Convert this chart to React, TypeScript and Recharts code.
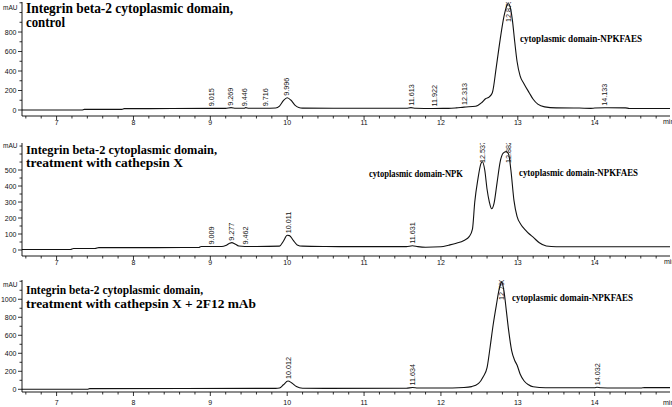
import React from 'react';
import { ComposedChart, Line, Scatter, XAxis, YAxis } from 'recharts';

const W = 672;
const SANS = '"Liberation Sans", Arial, sans-serif';
const SERIF = '"Liberation Serif", "Times New Roman", serif';

// [retention time (min), absorbance (mAU)]
const CONTROL: [number, number][] = [
  [6.55, 0], [7.33, 0], [7.36, 6], [7.85, 6], [7.88, 14], [8.5, 15], [9.0, 17], [9.2, 17],
  [9.27, 24], [9.33, 18], [9.44, 18], [9.46, 24], [9.5, 18], [9.7, 18], [9.85, 20], [9.9, 40],
  [9.95, 95], [10.0, 126], [10.05, 100], [10.1, 50], [10.15, 25], [10.2, 19], [10.6, 18],
  [11.0, 18], [11.55, 18], [11.61, 24], [11.67, 18], [11.9, 16], [12.1, 17], [12.2, 22],
  [12.3, 30], [12.45, 38], [12.53, 75], [12.58, 115], [12.63, 135], [12.67, 180], [12.72, 440],
  [12.77, 720], [12.82, 960], [12.86, 1075], [12.88, 1090], [12.9, 1060], [12.93, 920],
  [12.96, 700], [12.99, 500], [13.03, 350], [13.08, 270], [13.15, 175], [13.2, 110],
  [13.26, 60], [13.35, 32], [13.5, 22], [13.8, 20], [13.95, 17], [14.0, 20], [14.13, 23],
  [14.4, 22], [14.45, 16], [14.98, 16],
];

const CATX: [number, number][] = [
  [6.55, 3], [7.18, 3], [7.22, 9], [7.5, 9], [7.55, 15], [8.3, 15], [8.85, 16], [8.88, 22],
  [9.15, 22], [9.2, 28], [9.25, 42], [9.28, 46], [9.32, 38], [9.37, 25], [9.45, 22], [9.6, 22],
  [9.9, 24], [9.95, 55], [10.0, 92], [10.03, 90], [10.08, 60], [10.13, 32], [10.2, 24],
  [10.5, 22], [11.0, 21], [11.55, 21], [11.63, 27], [11.7, 21], [11.8, 17], [12.0, 20],
  [12.1, 30], [12.2, 42], [12.3, 60], [12.37, 85], [12.41, 130], [12.44, 300], [12.48, 440],
  [12.52, 540], [12.54, 552], [12.57, 500], [12.6, 380], [12.63, 300], [12.66, 258],
  [12.69, 290], [12.73, 420], [12.77, 550], [12.81, 605], [12.85, 615], [12.88, 600],
  [12.91, 500], [12.95, 310], [12.99, 210], [13.04, 160], [13.1, 125], [13.15, 100],
  [13.2, 80], [13.28, 45], [13.37, 25], [13.5, 20], [14.98, 20],
];

const CATX_MAB: [number, number][] = [
  [6.55, 0], [7.4, 0], [7.43, 8], [9.85, 10], [9.9, 15], [9.95, 50], [10.01, 92], [10.06, 70],
  [10.12, 30], [10.2, 12], [10.5, 10], [11.55, 12], [11.63, 20], [11.7, 14], [12.0, 14],
  [12.3, 20], [12.4, 30], [12.49, 65], [12.55, 140], [12.6, 240], [12.64, 470], [12.68, 720],
  [12.72, 930], [12.76, 1120], [12.79, 1190], [12.82, 1090], [12.85, 880], [12.88, 660],
  [12.92, 430], [12.96, 320], [12.99, 270], [13.03, 170], [13.08, 95], [13.14, 50],
  [13.2, 28], [13.36, 18], [14.0, 18], [14.03, 23], [14.08, 18], [14.25, 15], [14.6, 15],
  [14.65, 19], [14.98, 19],
];

const CONTROL_PEAKS = ['9.015', '9.269', '9.446', '9.716', '9.996', '11.613', '11.922', '12.313', '12.879', '14.133'];
const CATX_PEAKS = ['9.009', '9.277', '9.462', '10.011', '11.631', '12.537', '12.882'];
const CATX_MAB_PEAKS = ['10.012', '11.634', '12.790', '14.032'];

const X_DOMAIN: [number, number] = [6.55, 14.98];
const X_TICKS = Array.from({ length: 42 }, (_, i) => +(6.6 + i * 0.2).toFixed(1));

const Y1_TICKS = [0, 100, 200, 300, 400, 500, 600, 700, 800, 900, 1000, 1100];
const Y1_LABELS = [0, 200, 400, 600, 800];
const Y2_TICKS = [0, 50, 100, 150, 200, 250, 300, 350, 400, 450, 500, 550, 600, 650];
const Y2_LABELS = [0, 100, 200, 300, 400, 500];
const Y3_TICKS = [0, 100, 200, 300, 400, 500, 600, 700, 800, 900, 1000, 1100, 1200];
const Y3_LABELS = [0, 200, 400, 600, 800, 1000];

const XTick = (p: any) => {
  const { x, y, payload, gap } = p;
  const v = payload.value;
  const major = Math.abs(v - Math.round(v)) < 1e-6;
  return (
    <g>
      <line x1={x} x2={x} y1={y} y2={y + (major ? 4 : 2.5)} stroke="#000" strokeWidth={0.8} />
      {major && (
        <text x={x} y={y + gap} textAnchor="middle" dominantBaseline="central" fontSize={7} fontFamily={SANS} fill="#111" stroke="none">
          {Math.round(v)}
        </text>
      )}
    </g>
  );
};

const YTick = (p: any) => {
  const { x, y, payload, labels } = p;
  const v = payload.value;
  const show = labels.includes(v);
  return (
    <g>
      <line x1={x - (show ? 4 : 2.5)} x2={x} y1={y} y2={y} stroke="#000" strokeWidth={0.8} />
      {show && (
        <text x={x - 5.5} y={y} textAnchor="end" dominantBaseline="central" fontSize={7} fontFamily={SANS} fill="#111" stroke="none">
          {v}
        </text>
      )}
    </g>
  );
};

const PeakLabel = (p: any) => {
  const { cx, cy, payload, limit } = p;
  if (cx == null || cy == null) return null;
  const s: string = payload.label;
  const fs = 7.2;
  const len = (s.length - 1) * 0.556 * fs + 0.278 * fs;
  const y = Math.max(cy - 2, limit + len);
  return (
    <text x={cx} y={y} transform={`rotate(-90 ${cx} ${y})`} fontSize={fs} fontFamily={SANS}
      dominantBaseline="central" fill="#111" stroke="none">
      {s}
    </text>
  );
};

function Panel({ trace, peaks, top, height, plotTop, axisH, yDomain, yTicks, yLabels, gap }: any) {
  const data = trace.map(([t, v]: [number, number]) => ({ t, v }));
  const nearest = (t: number) =>
    data.reduce((a: any, b: any) => (Math.abs(b.t - t) < Math.abs(a.t - t) ? b : a));
  const marks = peaks.map((s: string) => ({ t: parseFloat(s), v: nearest(parseFloat(s)).v, label: s }));
  return (
    <div style={{ position: 'absolute', left: 0, top, width: W, height }}>
      <ComposedChart width={W} height={height} data={data} margin={{ top: plotTop, right: 2, bottom: 0, left: 0 }}>
        <XAxis
          dataKey="t"
          type="number"
          domain={X_DOMAIN}
          ticks={X_TICKS}
          interval={0}
          allowDataOverflow
          height={axisH}
          tickSize={0}
          tickMargin={0}
          tickLine={false}
          axisLine={{ stroke: '#000', strokeWidth: 0.9 }}
          tick={(tp: any) => <XTick {...tp} gap={gap} />}
        />
        <YAxis
          type="number"
          domain={yDomain}
          ticks={yTicks}
          interval={0}
          allowDataOverflow
          width={22}
          tickSize={0}
          tickMargin={0}
          tickLine={false}
          axisLine={{ stroke: '#000', strokeWidth: 0.9 }}
          tick={(tp: any) => <YTick {...tp} labels={yLabels} />}
        />
        <Line dataKey="v" type="monotone" stroke="#111" strokeWidth={1.1} dot={false} isAnimationActive={false} />
        <Scatter
          data={marks}
          dataKey="v"
          fill="#111"
          isAnimationActive={false}
          shape={(sp: any) => <PeakLabel {...sp} limit={plotTop - 2} />}
        />
      </ComposedChart>
    </div>
  );
}

const Title = ({ x, y1, y2, l1, l2, w1, w2, fs }: any) => (
  <g fontFamily={SERIF} fontWeight="bold" fontSize={fs} fill="#000">
    <text x={x} y={y1} textLength={w1} lengthAdjust="spacingAndGlyphs">{l1}</text>
    <text x={x} y={y2} textLength={w2} lengthAdjust="spacingAndGlyphs">{l2}</text>
  </g>
);

const Note = ({ x, y, w, children }: any) => (
  <text x={x} y={y} textLength={w} lengthAdjust="spacingAndGlyphs" fontFamily={SERIF} fontWeight="bold" fontSize={9.5} fill="#000">
    {children}
  </text>
);

export default function App() {
  return (
    <div style={{ position: 'absolute', left: 0, top: 0, width: W, height: 407, background: '#fff', overflow: 'hidden' }}>
      <Panel trace={CONTROL} peaks={CONTROL_PEAKS} top={0} height={130} plotTop={2} axisH={14}
        yDomain={[-61.5, 1108]} yTicks={Y1_TICKS} yLabels={Y1_LABELS} gap={6} />
      <Panel trace={CATX} peaks={CATX_PEAKS} top={130} height={140} plotTop={13} axisH={14}
        yDomain={[-37.5, 669]} yTicks={Y2_TICKS} yLabels={Y2_LABELS} gap={6} />
      <Panel trace={CATX_MAB} peaks={CATX_MAB_PEAKS} top={265} height={142} plotTop={15} axisH={15}
        yDomain={[-30, 1214]} yTicks={Y3_TICKS} yLabels={Y3_LABELS} gap={10} />
      <svg width={W} height={407} style={{ position: 'absolute', left: 0, top: 0, pointerEvents: 'none' }}>
        <Title x={26} y1={13.3} y2={26.7} fs={14} w1={207} w2={39}
          l1="Integrin beta-2 cytoplasmic domain," l2="control" />
        <Title x={26} y1={154} y2={167} fs={13.5} w1={191} w2={157}
          l1="Integrin beta-2 cytoplasmic domain," l2="treatment with cathepsin X" />
        <Title x={26} y1={293.5} y2={308} fs={13.5} w1={177} w2={230}
          l1="Integrin beta-2 cytoplasmic domain," l2="treatment with cathepsin X + 2F12 mAb" />
        <Note x={520} y={42.3} w={122}>cytoplasmic domain-NPKFAES</Note>
        <Note x={369} y={176.5} w={94}>cytoplasmic domain-NPK</Note>
        <Note x={519} y={176} w={119}>cytoplasmic domain-NPKFAES</Note>
        <Note x={512} y={300.7} w={121}>cytoplasmic domain-NPKFAES</Note>
        <g fontFamily={SANS} fontSize={6.5} fill="#111">
          <text x={3} y={7} dominantBaseline="central">mAU</text>
          <text x={3} y={145.7} dominantBaseline="central">mAU</text>
          <text x={3} y={284} dominantBaseline="central">mAU</text>
        </g>
        <g fontFamily={SANS} fontSize={7} fill="#111">
          <text x={663} y={121.7} dominantBaseline="central">min</text>
          <text x={664} y={261.7} dominantBaseline="central">min</text>
          <text x={663} y={402} dominantBaseline="central">min</text>
        </g>
      </svg>
    </div>
  );
}
